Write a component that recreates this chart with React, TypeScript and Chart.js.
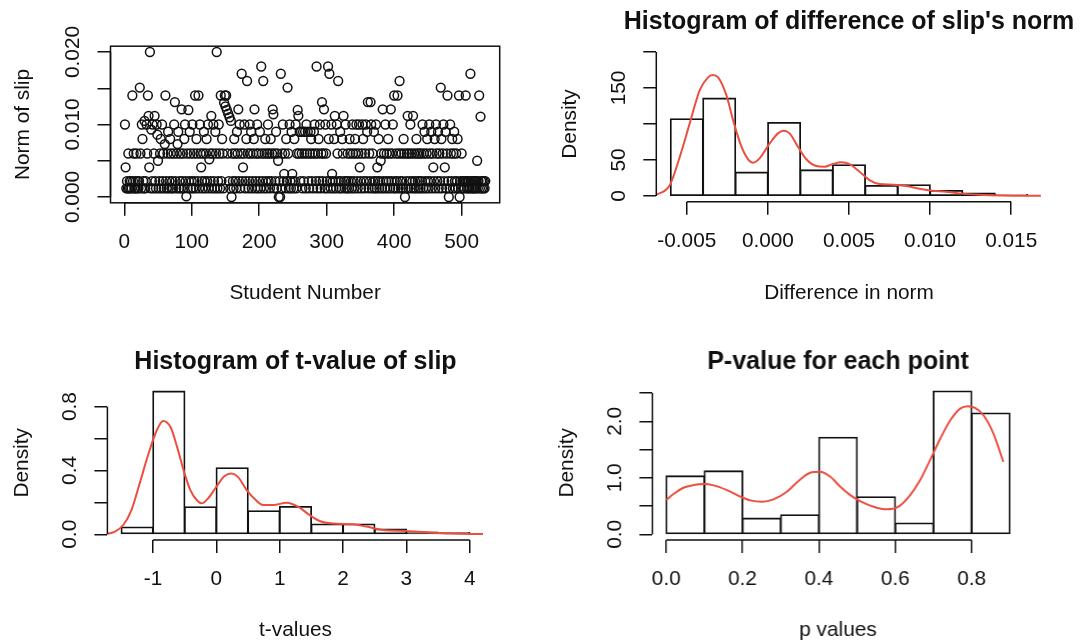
import React, { useEffect, useRef } from 'react';
import { Chart, registerables } from 'chart.js';

Chart.register(...registerables);

const FONT_FAMILY = '"Liberation Sans", Arial, Helvetica, sans-serif';
const TICK_SIZE = 20.8;
const TITLE_SIZE = 25;
const LINE_W = 1.5;
const INK = '#111111';
const CURVE = 'rgb(236,78,64)';

// ---------- Panel 1: Norm of slip per student (values in units of 0.001) ----------
const normOfSlipMilli: number[] = [
  10, 4.1, 1.2, 2.2, 1.2, 6, 1.2, 2.2, 1.2, 2.2,
  1.2, 14, 2.2, 6, 1.2, 1.2, 2.2, 6, 1.2, 2.2,
  1.2, 2.2, 15.1, 6, 1.2, 10, 8, 2.2, 1.2, 10.5,
  1.2, 2.2, 10, 6, 14, 11.2, 4.1, 20, 1.2, 9.3,
  2.2, 10, 1.2, 6, 11.2, 2.2, 1.2, 10, 8.6, 5,
  1.2, 2.2, 6, 8, 1.2, 10, 2.2, 6, 1.2, 7.3,
  14, 2.2, 1.2, 6, 9, 1.2, 2.2, 8, 6, 1.2,
  2.2, 1.2, 6, 10, 13.1, 2.2, 1.2, 6, 7.3, 9,
  1.2, 2.2, 6, 1.2, 12.1, 2.2, 6, 1.2, 8, 10,
  2.2, 0.1, 6, 1.2, 12, 2.2, 9, 6, 1.2, 2.2,
  10, 1.2, 6, 2.2, 14, 1.2, 8, 6, 2.2, 14,
  1.2, 10, 6, 4.1, 2.2, 1.2, 6, 9, 2.2, 1.2,
  6, 8, 2.2, 10, 1.2, 5.2, 6, 2.2, 11.2, 1.2,
  6, 10, 2.2, 1.2, 9, 6, 20, 1.2, 2.2, 10,
  6, 1.2, 14, 2.2, 8, 6, 1.2, 13, 14, 12.5,
  14, 12, 6, 11.5, 2.2, 11, 1.2, 10.5, 0, 6,
  2.2, 1.2, 8, 6, 2.2, 1.2, 9, 6, 12.1, 2.2,
  10, 1.2, 6, 17, 2.2, 4.1, 6, 10, 1.2, 2.2,
  8, 16, 6, 1.2, 2.2, 10, 6, 9, 1.2, 2.2,
  6, 8, 12.1, 1.2, 2.2, 6, 10, 1.2, 6, 2.2,
  9, 1.2, 18, 6, 2.2, 16, 1.2, 6, 8, 2.2,
  1.2, 6, 10, 2.2, 6, 1.2, 8, 2.2, 6, 12.1,
  11.4, 1.2, 6, 2.2, 9, 1.2, 6, 5, 0, 2.2,
  0, 17, 1.2, 6, 10, 2.2, 3.2, 6, 1.2, 8,
  2.2, 15.1, 6, 1.2, 10, 2.2, 1.2, 9, 3.2, 2.2,
  1.2, 8, 2.2, 10, 1.2, 6, 12, 11.2, 6, 9,
  2.2, 9, 6, 1.2, 9, 2.2, 6, 9, 1.2, 10,
  6, 9, 2.2, 1.2, 6, 9, 8, 2.2, 6, 1.2,
  9, 10, 6, 2.2, 18, 1.2, 6, 8, 2.2, 10,
  1.2, 6, 13.1, 2.2, 6, 12.1, 1.2, 10, 6, 2.2,
  1.2, 18, 8, 17, 2.2, 1.2, 10, 3.2, 2.2, 1.2,
  8, 11.2, 2.2, 1.2, 10, 6, 16, 2.2, 1.2, 9,
  2.2, 1.2, 8, 6, 11.2, 2.2, 1.2, 10, 2.2, 1.2,
  6, 2.2, 1.2, 8, 6, 2.2, 1.2, 10, 6, 2.2,
  1.2, 8, 6, 10, 2.2, 1.2, 6, 10, 4.1, 2.2,
  1.2, 6, 10, 8, 2.2, 1.2, 6, 10, 2.2, 9,
  13.1, 1.2, 6, 2.2, 13.1, 10, 1.2, 6, 2.2, 9,
  1.2, 2.2, 10, 1.2, 4.1, 2.2, 8, 1.2, 2.2, 5,
  6, 1.2, 12.1, 2.2, 6, 1.2, 10, 2.2, 6, 1.2,
  8, 2.2, 6, 1.2, 12.1, 2.2, 6, 10, 1.2, 14,
  2.2, 1.2, 6, 2.2, 14, 1.2, 6, 16, 2.2, 1.2,
  6, 2.2, 1.2, 8, 6, 0, 1.2, 2.2, 6, 11.2,
  1.2, 6, 2.2, 10, 1.2, 6, 2.2, 11.2, 1.2, 6,
  2.2, 1.2, 8, 6, 2.2, 1.2, 6, 2.2, 1.2, 6,
  2.2, 10, 1.2, 6, 9, 2.2, 1.2, 6, 8, 2.2,
  1.2, 10, 6, 2.2, 9, 1.2, 6, 4.1, 2.2, 8,
  1.2, 10, 6, 2.2, 9, 1.2, 6, 2.2, 15.1, 8,
  1.2, 6, 10, 2.2, 4.1, 9, 1.2, 6, 14, 2.2,
  0, 1.2, 10, 6, 2.2, 8, 1.2, 6, 9, 2.2,
  1.2, 6, 2.2, 8, 1.2, 14, 0, 2.2, 1.2, 6,
  2.2, 1.2, 2.2, 1.2, 2.2,
  14, 2.2, 1.2, 2.2, 1.2, 2.2, 1.2, 17, 2.2, 1.2,
  2.2, 1.2, 2.2, 1.2, 2.2, 1.2, 2.2, 5, 1.2, 2.2,
  14, 1.2, 11.1, 2.2, 1.2, 2.2, 1.2, 2.2, 1.2, 2.2,
];
const studentTicks = [0, 100, 200, 300, 400, 500];
const studentTickLabels = ['0', '100', '200', '300', '400', '500'];
const normTicks = [0, 0.005, 0.01, 0.015, 0.02];
const normTickLabels = ['0.000', '', '0.010', '', '0.020'];

// ---------- Panel 2: Histogram of difference of slip's norm ----------
const diffBinCenters = [-0.005, -0.003, -0.001, 0.001, 0.003, 0.005, 0.007, 0.009, 0.011, 0.013, 0.015];
const diffDensity = [107, 135.6, 32.9, 101.9, 36, 43, 14.4, 15.3, 7.4, 3.7, 1.9];
const diffCurveX = [-0.0069, -0.00605, -0.00543, -0.00482, -0.0042, -0.00369, -0.00342, -0.00307, -0.00256, -0.00215,
  -0.00163, -0.00122, -0.00092, -0.00051, 0.00011, 0.00062, 0.00097, 0.00134, 0.00185, 0.00237,
  0.00298, 0.00349, 0.004, 0.00452, 0.00503, 0.00565, 0.00626, 0.00688, 0.0077, 0.00852,
  0.00934, 0.01016, 0.01098, 0.0118, 0.01303, 0.01445, 0.01683];
const diffCurveY = [1.4, 15, 54.6, 100.9, 147, 164.8, 168, 164.8, 140, 105.6,
  68.5, 51, 46.3, 52.3, 73, 87, 90.7, 87, 68.5, 51,
  41.7, 40.7, 44.4, 46.8, 44.4, 33.8, 22.2, 16.7, 15.7, 13.9,
  10.2, 7.4, 6, 3.7, 1.9, 0.9, 0.3];
const diffTicks = [-0.005, 0, 0.005, 0.01, 0.015];
const diffTickLabels = ['-0.005', '0.000', '0.005', '0.010', '0.015'];
const diffDensityTicks = [0, 50, 100, 150, 200];
const diffDensityTickLabels = ['0', '50', '', '150', ''];

// ---------- Panel 3: Histogram of t-value of slip ----------
const tBinCenters = [-1.25, -0.75, -0.25, 0.25, 0.75, 1.25, 1.75, 2.25, 2.75, 3.25, 3.75];
const tDensity = [0.044, 0.896, 0.171, 0.415, 0.146, 0.173, 0.0625, 0.0625, 0.031, 0.0125, 0.01];
const tCurveX = [-1.72, -1.6, -1.47, -1.34, -1.21, -1.07, -0.94, -0.84, -0.72, -0.62,
  -0.51, -0.41, -0.3, -0.23, -0.13, 0, 0.13, 0.24, 0.34, 0.48,
  0.61, 0.74, 0.9, 1.11, 1.29, 1.47, 1.63, 1.84, 2.16, 2.37,
  2.63, 3, 3.32, 3.68, 4.21];
const tCurveY = [0.002, 0.017, 0.058, 0.152, 0.319, 0.506, 0.652, 0.71, 0.669, 0.548,
  0.392, 0.277, 0.21, 0.194, 0.225, 0.298, 0.365, 0.381, 0.36, 0.277,
  0.219, 0.183, 0.183, 0.198, 0.173, 0.121, 0.083, 0.067, 0.0625, 0.048,
  0.027, 0.021, 0.0125, 0.004, 0.002];
const tTicks = [-1, 0, 1, 2, 3, 4];
const tTickLabels = ['-1', '0', '1', '2', '3', '4'];
const tDensityTicks = [0, 0.2, 0.4, 0.6, 0.8];
const tDensityTickLabels = ['0.0', '', '0.4', '', '0.8'];

// ---------- Panel 4: P-value for each point ----------
const pBinCenters = [0.05, 0.15, 0.25, 0.35, 0.45, 0.55, 0.65, 0.75, 0.85];
const pDensity = [1.03, 1.118, 0.282, 0.341, 1.712, 0.659, 0.194, 2.53, 2.141];
const pCurveX = [0, 0.019, 0.045, 0.072, 0.098, 0.124, 0.159, 0.194, 0.22, 0.251,
  0.281, 0.316, 0.351, 0.377, 0.403, 0.43, 0.456, 0.482, 0.508, 0.543,
  0.578, 0.608, 0.639, 0.665, 0.691, 0.718, 0.744, 0.77, 0.79, 0.809,
  0.831, 0.857, 0.883];
const pCurveY = [0.606, 0.712, 0.824, 0.871, 0.888, 0.865, 0.782, 0.665, 0.6, 0.576,
  0.618, 0.753, 0.971, 1.088, 1.106, 1.018, 0.841, 0.694, 0.588, 0.488,
  0.441, 0.488, 0.694, 0.959, 1.312, 1.694, 2.018, 2.224, 2.265, 2.235,
  2.106, 1.782, 1.282];
const pTicks = [0, 0.2, 0.4, 0.6, 0.8];
const pTickLabels = ['0.0', '0.2', '0.4', '0.6', '0.8'];
const pDensityTicks = [0, 0.5, 1, 1.5, 2, 2.5];
const pDensityTickLabels = ['0.0', '', '1.0', '', '2.0', ''];

// ---------- R-style axis line / box plugin ----------
const rAxisPlugin = {
  id: 'rAxis',
  afterDraw(chart: any, _args: any, opts: any) {
    const { ctx, chartArea } = chart;
    const xs = chart.scales.x;
    const ys = chart.scales.y;
    ctx.save();
    ctx.strokeStyle = INK;
    ctx.lineWidth = LINE_W;
    ctx.beginPath();
    const xt = xs.ticks;
    const yt = ys.ticks;
    ctx.moveTo(xs.getPixelForValue(xt[0].value), chartArea.bottom);
    ctx.lineTo(xs.getPixelForValue(xt[xt.length - 1].value), chartArea.bottom);
    ctx.moveTo(chartArea.left, ys.getPixelForValue(yt[0].value));
    ctx.lineTo(chartArea.left, ys.getPixelForValue(yt[yt.length - 1].value));
    ctx.stroke();
    if (opts && opts.box) {
      ctx.strokeRect(chartArea.left, chartArea.top, chartArea.right - chartArea.left, chartArea.bottom - chartArea.top);
    }
    ctx.restore();
  },
};

type Layout = {
  id: string;
  left: number; top: number; width: number; height: number;
  yAxisWidth: number; xAxisHeight: number;
  padTop: number; padRight: number; rightGutter: number;
  title?: string; titlePadTop?: number; titlePadBottom?: number;
  xMin: number; xMax: number; yMin: number; yMax: number;
  xTicks: number[]; xLabels: string[]; yTicks: number[]; yLabels: string[];
  xTitle: string; yTitle: string; xTitlePadBottom: number; yTitlePadTop: number;
  yTickPad: number; box?: boolean;
};

const tickFont = { family: FONT_FAMILY, size: TICK_SIZE };

function buildOptions(s: Layout): any {
  const grid = { display: true, drawOnChartArea: false, drawTicks: true, tickLength: 13, color: INK, lineWidth: LINE_W, offset: false };
  const scales: any = {
    x: {
      type: 'linear', position: 'bottom', min: s.xMin, max: s.xMax, offset: false,
      grid, border: { display: false },
      afterBuildTicks: (scale: any) => { scale.ticks = s.xTicks.map((v) => ({ value: v })); },
      afterFit: (scale: any) => { scale.height = s.xAxisHeight; },
      ticks: {
        autoSkip: false, minRotation: 0, maxRotation: 0, padding: 14, color: INK, font: tickFont,
        callback: (_v: any, i: number) => s.xLabels[i],
      },
      title: { display: true, text: s.xTitle, color: INK, font: tickFont, padding: { top: 0, bottom: s.xTitlePadBottom } },
    },
    y: {
      type: 'linear', position: 'left', min: s.yMin, max: s.yMax,
      grid, border: { display: false },
      afterBuildTicks: (scale: any) => { scale.ticks = s.yTicks.map((v) => ({ value: v })); },
      afterFit: (scale: any) => { scale.width = s.yAxisWidth; },
      ticks: {
        autoSkip: false, minRotation: 90, maxRotation: 90, crossAlign: 'center', padding: s.yTickPad,
        color: INK, font: tickFont,
        callback: (_v: any, i: number) => s.yLabels[i],
      },
      title: { display: true, text: s.yTitle, color: INK, font: tickFont, padding: { top: s.yTitlePadTop, bottom: 0 } },
    },
  };
  if (s.rightGutter > 0) {
    // empty right-hand gutter so that the title centres over the plot region
    scales.gutter = {
      type: 'linear', position: 'right', min: s.yMin, max: s.yMax,
      grid: { display: false, drawTicks: false }, border: { display: false },
      ticks: { display: false }, title: { display: false },
      afterFit: (scale: any) => { scale.width = s.rightGutter; },
    };
  }
  return {
    responsive: false,
    maintainAspectRatio: false,
    animation: false,
    devicePixelRatio: 1,
    events: [],
    layout: { padding: { top: s.padTop, right: s.padRight, bottom: 0, left: 0 } },
    plugins: {
      legend: { display: false },
      tooltip: { enabled: false },
      title: s.title
        ? {
            display: true, text: s.title, fullSize: true, color: INK,
            font: { family: FONT_FAMILY, size: TITLE_SIZE, weight: 'bold', lineHeight: 1 },
            padding: { top: s.titlePadTop, bottom: s.titlePadBottom },
          }
        : { display: false },
      rAxis: { box: !!s.box },
    },
    scales,
  };
}

function histConfig(s: Layout, centers: number[], dens: number[], cx: number[], cy: number[]): any {
  return {
    type: 'line',
    data: {
      datasets: [
        {
          type: 'line', data: cx.map((x, i) => ({ x, y: cy[i] })), borderColor: CURVE, borderWidth: 2,
          pointRadius: 0, cubicInterpolationMode: 'monotone', fill: false, order: 0,
        },
        {
          type: 'bar', data: centers.map((x, i) => ({ x, y: dens[i] })), borderColor: INK,
          backgroundColor: 'rgba(0,0,0,0)', borderWidth: 0.3, inflateAmount: 0.75, borderSkipped: false,
          barPercentage: 1, categoryPercentage: 1, order: 1,
        },
      ],
    },
    options: buildOptions(s),
    plugins: [rAxisPlugin],
  };
}

const scatterLayout: Layout = {
  id: 'scatter', left: 0, top: 0, width: 544, height: 321,
  yAxisWidth: 110.5, xAxisHeight: 118.2, padTop: 46.2, padRight: 44.3, rightGutter: 0,
  xMin: -20.4, xMax: 556.4, yMin: -0.0008, yMax: 0.0208,
  xTicks: studentTicks, xLabels: studentTickLabels, yTicks: normTicks, yLabels: normTickLabels,
  xTitle: 'Student Number', yTitle: 'Norm of slip', xTitlePadBottom: 15.5, yTitlePadTop: 10.5,
  yTickPad: -2, box: true,
};

const diffLayout: Layout = {
  id: 'diff', left: 544, top: 0, width: 610.4, height: 321,
  yAxisWidth: 112.3, xAxisHeight: 119.2, padTop: 0, padRight: 0, rightGutter: 112.3,
  title: "Histogram of difference of slip's norm", titlePadTop: 10, titlePadBottom: 11.2,
  xMin: -0.00688, xMax: 0.01688, yMin: -8, yMax: 208,
  xTicks: diffTicks, xLabels: diffTickLabels, yTicks: diffDensityTicks, yLabels: diffDensityTickLabels,
  xTitle: 'Difference in norm', yTitle: 'Density', xTitlePadBottom: 15.5, yTitlePadTop: 13.5,
  yTickPad: 6.6,
};

const tLayout: Layout = {
  id: 't', left: 0, top: 321, width: 591.3, height: 322,
  yAxisWidth: 107.4, xAxisHeight: 103, padTop: 0, padRight: 0, rightGutter: 107.4,
  title: 'Histogram of t-value of slip', titlePadTop: 28.3, titlePadBottom: 11.3,
  xMin: -1.72, xMax: 4.22, yMin: -0.036, yMax: 0.932,
  xTicks: tTicks, xLabels: tTickLabels, yTicks: tDensityTicks, yLabels: tDensityTickLabels,
  xTitle: 't-values', yTitle: 'Density', xTitlePadBottom: 0, yTitlePadTop: 10,
  yTickPad: 9.5,
};

const pLayout: Layout = {
  id: 'p', left: 544, top: 321, width: 587.5, height: 322,
  yAxisWidth: 108.3, xAxisHeight: 103, padTop: 0, padRight: 0, rightGutter: 108.3,
  title: 'P-value for each point', titlePadTop: 28.3, titlePadBottom: 11.3,
  xMin: -0.036, xMax: 0.936, yMin: -0.1012, yMax: 2.6312,
  xTicks: pTicks, xLabels: pTickLabels, yTicks: pDensityTicks, yLabels: pDensityTickLabels,
  xTitle: 'p values', yTitle: 'Density', xTitlePadBottom: 0, yTitlePadTop: 11,
  yTickPad: 9.5,
};

const panels: { layout: Layout; build: () => any }[] = [
  {
    layout: scatterLayout,
    build: () => ({
      type: 'scatter',
      data: {
        datasets: [
          {
            data: normOfSlipMilli.map((v, i) => ({ x: i + 1, y: v / 1000 })),
            pointStyle: 'circle', pointRadius: 4.4, pointBorderWidth: 1.5,
            pointBorderColor: INK, pointBackgroundColor: 'rgba(0,0,0,0)',
            borderColor: INK, backgroundColor: 'rgba(0,0,0,0)',
          },
        ],
      },
      options: buildOptions(scatterLayout),
      plugins: [rAxisPlugin],
    }),
  },
  { layout: diffLayout, build: () => histConfig(diffLayout, diffBinCenters, diffDensity, diffCurveX, diffCurveY) },
  { layout: tLayout, build: () => histConfig(tLayout, tBinCenters, tDensity, tCurveX, tCurveY) },
  { layout: pLayout, build: () => histConfig(pLayout, pBinCenters, pDensity, pCurveX, pCurveY) },
];

function Panel({ layout, build }: { layout: Layout; build: () => any }) {
  const ref = useRef<HTMLCanvasElement>(null);
  useEffect(() => {
    if (!ref.current) return;
    const chart = new Chart(ref.current, build());
    return () => chart.destroy();
  }, []);
  return (
    <canvas
      ref={ref}
      width={layout.width}
      height={layout.height}
      style={{ position: 'absolute', left: layout.left, top: layout.top, width: layout.width, height: layout.height }}
    />
  );
}

export default function App() {
  return (
    <div style={{ position: 'absolute', left: 0, top: 0, width: 1088, height: 643, background: '#ffffff', overflow: 'hidden' }}>
      {panels.map((p) => (
        <Panel key={p.layout.id} layout={p.layout} build={p.build} />
      ))}
    </div>
  );
}
